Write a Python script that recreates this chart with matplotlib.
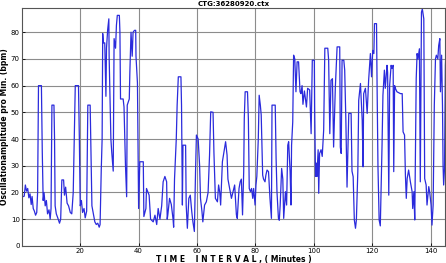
import matplotlib
matplotlib.use('Agg')
import matplotlib.pyplot as plt

# oscillation amplitude trace (minutes, bpm)
t_min = [0.2, 0.8, 1.2, 1.6, 2.0, 2.4, 2.8, 3.2, 3.5, 3.9, 4.3, 4.7, 5.1, 5.4, 5.7, 6.7, 7.0, 7.3, 7.6, 8.0,
         8.4, 8.8, 9.3, 9.7, 10.0, 10.3, 11.0, 11.2, 11.4, 11.8, 12.3, 12.9, 13.3, 13.7, 14.3, 14.6, 15.0, 15.5, 16.0, 16.6,
         17.1, 17.6, 18.3, 19.4, 19.7, 20.0, 20.4, 20.8, 21.3, 21.7, 22.2, 22.6, 23.4, 23.6, 24.0, 24.5, 25.0, 25.5, 26.0, 26.5,
         26.8, 27.2, 27.5, 27.7, 27.9, 28.4, 28.8, 29.0, 29.4, 29.8, 29.9, 30.2, 30.5, 30.8, 31.3, 31.6, 32.1, 32.4, 32.7, 33.4,
         33.6, 33.8, 34.7, 35.0, 35.3, 35.5, 35.9, 36.1, 36.8, 37.0, 37.4, 37.8, 38.1, 38.6, 39.0, 39.1, 39.6, 40.0, 40.4, 41.6,
         41.8, 42.5, 42.7, 43.6, 44.1, 45.0, 45.6, 46.2, 46.7, 47.3, 47.9, 48.4, 49.0, 49.6, 49.8, 50.0, 50.6, 51.2, 51.8, 52.0,
         52.3, 52.9, 53.2, 53.6, 54.5, 54.7, 55.0, 55.2, 56.1, 56.3, 56.7, 57.2, 57.7, 58.2, 58.6, 59.1, 59.5, 59.8, 60.4, 60.9,
         61.2, 61.7, 62.0, 62.6, 63.2, 63.8, 64.3, 64.7, 65.5, 65.8, 66.3, 67.0, 67.4, 67.8, 68.1, 68.7, 69.2, 69.8, 70.3, 70.6,
         71.2, 71.8, 72.3, 72.9, 73.5, 73.8, 74.4, 74.8, 75.2, 75.6, 76.0, 76.2, 76.5, 77.3, 77.6, 77.9, 78.3, 78.7, 79.1, 79.4,
         79.9, 80.2, 80.5, 81.0, 81.3, 81.7, 82.0, 82.5, 82.8, 83.3, 83.6, 84.0, 84.5, 85.0, 85.5, 85.7, 86.8, 87.1, 87.4, 87.9,
         88.2, 88.5, 89.0, 89.4, 89.7, 90.3, 90.7, 91.1, 91.4, 91.9, 92.2, 92.4, 92.8, 93.1, 93.5, 93.9, 94.3, 94.8, 95.3, 95.6,
         96.0, 96.3, 96.8, 97.5, 97.9, 98.6, 99.1, 99.5, 100.2, 100.3, 100.6, 100.9, 101.1, 101.5, 101.7, 102.0, 102.5, 102.9, 103.4, 103.8,
         104.8, 105.1, 105.5, 105.9, 106.4, 106.8, 107.4, 108.0, 108.9, 109.1, 109.4, 109.7, 110.3, 110.6, 111.0, 111.4, 112.0, 112.8, 113.1, 113.5,
         113.9, 114.3, 114.6, 115.1, 115.4, 116.0, 116.6, 116.9, 117.1, 117.7, 118.3, 118.8, 119.4, 119.8, 120.2, 120.6, 120.8, 121.5, 121.7, 122.0,
         122.4, 122.8, 123.4, 123.7, 124.2, 124.5, 125.1, 125.3, 125.7, 126.0, 126.5, 126.8, 127.2, 127.4, 127.7, 128.0, 128.5, 129.7, 130.3, 130.6,
         131.1, 131.4, 131.7, 132.0, 132.5, 133.1, 133.7, 133.9, 134.3, 134.6, 135.1, 135.4, 135.7, 136.2, 136.5, 136.9, 137.2, 137.7, 138.0, 138.5,
         138.8, 139.4, 139.7, 140.2, 140.5, 140.9, 141.3, 141.7, 142.0, 142.5, 142.8, 143.2, 143.4, 143.8, 144.1, 144.3, 144.5, 144.8, 145.1, 145.5]
amp_bpm = [18.4, 18.6, 22.8, 20.5, 21.5, 18.0, 19.5, 15.5, 18.5, 14.0, 13.0, 11.5, 12.5, 20.0, 60.0, 60.0, 35.0, 17.0, 20.0, 15.0,
           17.0, 12.0, 13.5, 10.0, 14.0, 52.7, 52.7, 40.0, 15.0, 12.0, 10.5, 8.5, 10.0, 24.7, 24.7, 19.0, 22.0, 16.0, 15.0, 12.5,
           12.0, 20.0, 60.0, 60.0, 40.0, 15.0, 17.0, 12.5, 14.0, 10.5, 13.0, 52.7, 52.7, 40.0, 15.0, 12.0, 9.0, 8.0, 8.5, 7.0,
           8.0, 28.4, 40.0, 79.5, 76.0, 76.0, 56.0, 74.0, 81.0, 85.0, 71.0, 55.0, 40.0, 35.0, 28.0, 77.6, 74.0, 82.6, 86.3, 86.3,
           80.0, 55.0, 55.0, 52.0, 38.0, 30.0, 18.4, 52.7, 55.0, 65.0, 80.0, 71.0, 80.0, 80.7, 80.7, 71.0, 61.0, 14.0, 31.5, 31.5,
           11.0, 14.0, 21.5, 19.0, 10.0, 9.0, 11.5, 8.0, 14.0, 10.0, 15.0, 24.0, 26.0, 24.0, 10.0, 11.6, 17.8, 15.5, 10.0, 7.0,
           25.0, 40.0, 52.7, 63.3, 63.3, 52.7, 15.3, 37.7, 37.7, 15.3, 6.6, 17.8, 19.0, 12.9, 9.0, 5.4, 27.8, 41.5, 40.0, 30.0,
           17.8, 12.9, 9.0, 15.3, 16.5, 20.0, 34.0, 50.2, 50.0, 35.0, 17.8, 16.5, 22.8, 20.0, 15.3, 31.5, 35.0, 39.0, 34.0, 25.0,
           21.5, 17.8, 20.0, 22.8, 11.6, 10.3, 21.5, 24.0, 25.0, 11.6, 27.8, 47.7, 57.7, 57.7, 47.7, 21.5, 20.3, 21.5, 17.8, 21.5,
           15.3, 22.8, 26.0, 40.0, 56.4, 52.7, 49.0, 26.5, 25.0, 24.0, 26.5, 28.4, 27.8, 17.8, 10.3, 52.7, 52.7, 32.7, 20.3, 10.3,
           9.6, 15.3, 29.0, 25.0, 10.3, 20.3, 15.3, 37.7, 39.0, 27.8, 15.3, 37.7, 46.4, 71.4, 70.0, 57.7, 68.9, 68.9, 57.7, 57.0,
           60.0, 53.0, 58.0, 52.0, 59.0, 58.4, 42.0, 69.5, 69.5, 52.0, 26.0, 31.0, 26.0, 36.0, 19.7, 34.6, 36.0, 33.5, 43.4, 74.0,
           74.0, 69.5, 42.0, 62.0, 62.6, 37.0, 59.5, 74.5, 74.5, 37.0, 34.6, 69.5, 69.5, 65.8, 47.0, 22.0, 49.6, 49.6, 28.0, 25.9,
           9.7, 6.6, 9.7, 28.0, 54.5, 60.8, 47.0, 29.6, 57.0, 59.0, 49.6, 62.0, 72.0, 63.3, 73.2, 72.0, 83.2, 83.2, 59.5, 29.6,
           9.7, 7.5, 38.0, 56.4, 65.8, 59.0, 67.6, 65.0, 19.0, 60.0, 67.6, 66.4, 67.6, 27.8, 60.0, 58.9, 57.7, 57.0, 57.0, 42.7,
           41.5, 26.5, 17.8, 25.2, 28.4, 24.0, 20.3, 14.0, 20.3, 9.7, 62.6, 72.0, 70.0, 73.8, 24.0, 87.5, 88.7, 85.0, 25.2, 22.8,
           15.3, 22.2, 20.3, 15.3, 7.8, 15.3, 52.7, 70.0, 71.4, 70.0, 75.0, 77.6, 57.7, 71.4, 52.7, 30.0, 22.8, 29.0, 67.6, 77.6]

x_ticks = [20, 40, 60, 80, 100, 120, 140]
y_ticks = [0, 10, 20, 30, 40, 50, 60, 70, 80]

fig = plt.figure(figsize=(4.46, 2.63), dpi=100)
ax = fig.add_axes([0.049, 0.065, 0.949, 0.904])

ax.plot(t_min, amp_bpm, color='#2b2bdc', linewidth=0.9)

ax.set_xlim(0, 145)
ax.set_ylim(0, 89)
ax.set_xticks(x_ticks)
ax.set_yticks(y_ticks)
ax.tick_params(labelsize=5, direction='in', length=2, pad=1.5, width=0.6)
ax.grid(True, color='#8c8c8c', linewidth=0.8)
ax.set_axisbelow(True)
for s in ax.spines.values():
    s.set_color('#555555')
    s.set_linewidth(0.8)

ax.set_xlabel('T I M E    I N T E R V A L , ( Minutes )', fontsize=5.5, fontweight='bold', labelpad=1)
ax.set_ylabel('Oscillationamplitude pro Min. (bpm)', fontsize=5.5, fontweight='bold', labelpad=1)
fig.text(0.523, 0.984, 'CTG:36280920.ctx', fontsize=5, fontweight='bold', ha='center', va='center')

fig.savefig('out.png', dpi=100)
